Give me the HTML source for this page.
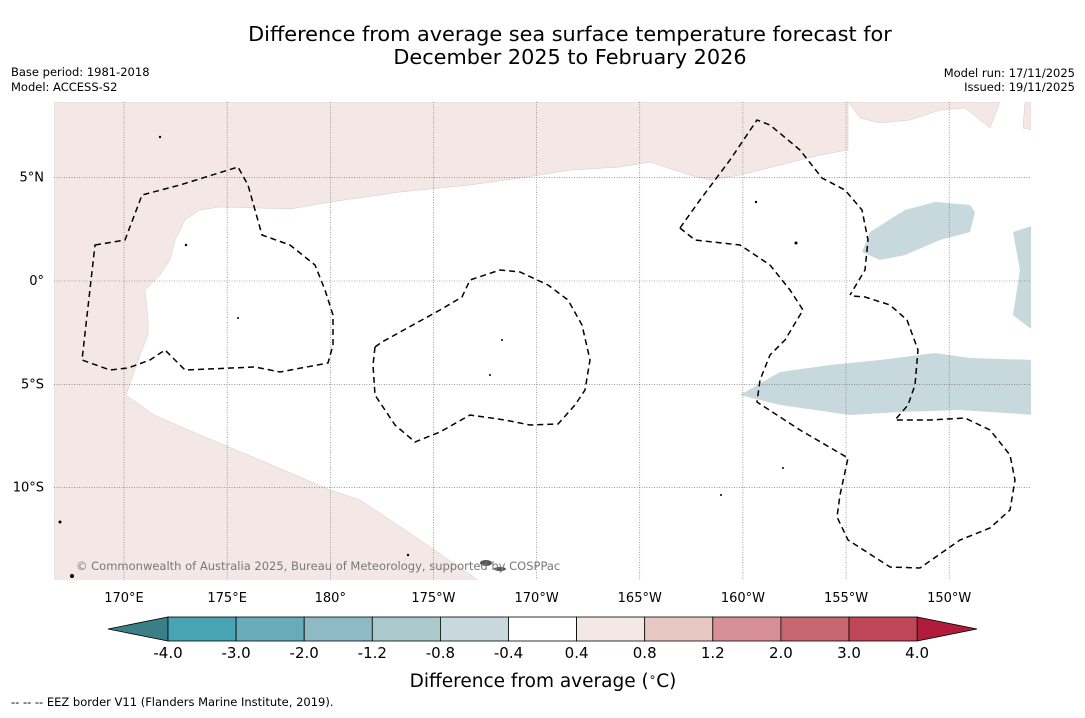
<!DOCTYPE html>
<html><head><meta charset="utf-8"><style>
body{margin:0;background:#fff;font-family:"Liberation Sans","DejaVu Sans",sans-serif}
svg text{font-family:"DejaVu Sans","Liberation Sans",sans-serif}
</style></head><body>
<svg width="1085" height="713" viewBox="0 0 1085 713" xmlns="http://www.w3.org/2000/svg">
<text x="570" y="41" font-size="20.8" text-anchor="middle">Difference from average sea surface temperature forecast for</text>
<text x="570" y="64" font-size="20.8" text-anchor="middle">December 2025 to February 2026</text>
<text x="11" y="76" font-size="11.5">Base period: 1981-2018</text>
<text x="11" y="91" font-size="11.5">Model: ACCESS-S2</text>
<text x="1075" y="77" font-size="11.5" text-anchor="end">Model run: 17/11/2025</text>
<text x="1075" y="91" font-size="11.5" text-anchor="end">Issued: 19/11/2025</text>
<g id="map">
<clipPath id="mc"><rect x="54" y="102" width="977" height="478"/></clipPath>
<g clip-path="url(#mc)">
<rect x="54" y="102" width="977" height="478" fill="#fff"/>
<path fill="#f4e8e7" stroke="#d8c8c8" stroke-width="0.5" d="M54,102 L848,102 L848,150 L820,155 L780,165 L740,175 L710,180 L690,175 L650,162 L620,167 L570,170 L520,178 L470,185 L400,192 L330,202 L290,209 L260,208 L220,207 L200,210 L185,220 L175,240 L170,260 L160,275 L145,290 L148,320 L148,335 L140,355 L126,395 L154,415 L200,435 L260,460 L330,490 L360,500 L420,540 L485,585 L54,585 Z"/>
<path fill="#f4e8e7" stroke="#d8c8c8" stroke-width="0.5" d="M848,102 L860,118 L880,123 L910,120 L940,110 L965,108 L990,128 L1000,102 Z M1025,102 L1031,102 L1031,130 L1023,128 Z"/>
<g fill="#c7d9dc">
<path d="M862,252 L870,232 L905,210 L935,202 L970,205 L975,212 L970,232 L940,240 L905,255 L880,260 Z"/>
<path d="M1013,232 L1035,225 L1035,332 L1013,315 L1020,270 Z"/>
<path d="M740,395 L780,372 L830,365 L880,360 L935,353 L970,358 L1035,360 L1035,415 L960,410 L900,412 L850,415 L780,405 Z"/>
</g>
<g id="grid" stroke="#666" stroke-width="0.6" stroke-dasharray="1,1.5"></g>
<g fill="none" stroke="#000" stroke-width="1.5" stroke-dasharray="6,4">
<path d="M95,245 L125,240 L142,195 L180,185 L238,167 L248,185 L262,235 L290,245 L315,265 L325,290 L333,315 L333,345 L328,363 L280,372 L255,367 L185,370 L165,350 L150,360 L128,368 L110,370 L82,360 Z"/>
<path d="M375,347 L382,342 L440,310 L462,297 L470,280 L500,270 L520,272 L548,285 L568,300 L582,325 L590,360 L585,390 L575,405 L558,424 L530,425 L505,420 L470,415 L440,432 L415,442 L395,425 L375,395 L373,365 Z"/>
<path d="M680,228 L700,200 L730,160 L757,120 L770,125 L800,150 L822,178 L845,190 L862,210 L868,240 L865,270 L850,295"/>
<path d="M680,228 L695,240 L740,245 L770,265 L790,290 L803,310 L797,320 L785,340 L770,355 L760,380 L757,402 L800,430 L848,458 L840,495 L837,517 L848,540 L890,567 L920,568 L960,540 L990,528 L1010,510 L1015,480 L1010,455 L990,430 L965,418 L930,420 L895,420 L908,405 L915,385 L918,350 L907,320 L890,305 L865,297 L852,296"/>
</g>
<g fill="#000">
<ellipse cx="486" cy="563" rx="6" ry="3" fill="#555"/><ellipse cx="500" cy="569" rx="6" ry="2" fill="#555"/>
<circle cx="60" cy="522" r="1.5"/><circle cx="72" cy="576" r="2"/><circle cx="796" cy="243" r="1.5"/><circle cx="756" cy="202" r="1.2"/><circle cx="160" cy="137" r="1.2"/><circle cx="186" cy="245" r="1.2"/><circle cx="238" cy="318" r="1"/><circle cx="502" cy="340" r="1"/><circle cx="490" cy="375" r="1"/><circle cx="783" cy="468" r="1"/><circle cx="721" cy="495" r="1"/><circle cx="408" cy="555" r="1.2"/>
</g>
<text x="76" y="570" font-size="11.5" fill="#777">© Commonwealth of Australia 2025, Bureau of Meteorology, supported by COSPPac</text>
</g>
<g id="ticks" font-size="13"></g>
</g>
<g id="cbar"></g>
<text x="543" y="687" font-size="18.5" text-anchor="middle">Difference from average (<tspan font-size="12" dy="-6">∘</tspan><tspan dy="6">C)</tspan></text>
<text x="11" y="706" font-size="11.5">--  --  -- EEZ border V11 (Flanders Marine Institute, 2019).</text>
</svg>
<script>
const lonTicks=[170,175,180,185,190,195,200,205,210];
const lonLabels=["170°E","175°E","180°","175°W","170°W","165°W","160°W","155°W","150°W"];
const latTicks=[5,0,-5,-10];
const latLabels=["5°N","0°","5°S","10°S"];
const cbLevels=["-4.0","-3.0","-2.0","-1.2","-0.8","-0.4","0.4","0.8","1.2","2.0","3.0","4.0"];
const cbColors=["#48a3b3","#68acba","#8dbac4","#abc8cd","#c7d9dc","#ffffff","#f4e8e7","#e9c8c4","#d68f96","#c8666f","#bf4656"];
const NS="http://www.w3.org/2000/svg";
const xOf=l=>124+(l-170)*20.63;
const yOf=l=>281-l*20.66;
const grid=document.getElementById('grid'),ticks=document.getElementById('ticks');
lonTicks.forEach((l,i)=>{
 const ln=document.createElementNS(NS,'line');
 
 
 ln.setAttribute('x1',xOf(l));ln.setAttribute('x2',xOf(l));ln.setAttribute('y1',102);ln.setAttribute('y2',580);grid.appendChild(ln);
 const t=document.createElementNS(NS,'text');
 
 
 t.setAttribute('x',xOf(l));t.setAttribute('y',602);t.setAttribute('text-anchor','middle');t.textContent=lonLabels[i];ticks.appendChild(t);
});
latTicks.forEach((l,i)=>{
 const ln=document.createElementNS(NS,'line');
 
 
 ln.setAttribute('x1',54);ln.setAttribute('x2',1031);ln.setAttribute('y1',yOf(l));ln.setAttribute('y2',yOf(l));grid.appendChild(ln);
 const t=document.createElementNS(NS,'text');
 
 
 t.setAttribute('x',44);t.setAttribute('y',yOf(l)+4);t.setAttribute('text-anchor','end');t.textContent=latLabels[i];ticks.appendChild(t);
});
const cb=document.getElementById('cbar');
const x0=168,w=68.1,y0=617,h=24;
const tl=document.createElementNS(NS,'polygon');


tl.setAttribute('points',`108,${y0+h/2} ${x0},${y0} ${x0},${y0+h}`);tl.setAttribute('fill','#3a7f88');tl.setAttribute('stroke','#000');tl.setAttribute('stroke-width','0.8');cb.appendChild(tl);
const xe=x0+w*cbColors.length;
const tr=document.createElementNS(NS,'polygon');


tr.setAttribute('points',`977,${y0+h/2} ${xe},${y0} ${xe},${y0+h}`);tr.setAttribute('fill','#b01c3a');tr.setAttribute('stroke','#000');tr.setAttribute('stroke-width','0.8');cb.appendChild(tr);
cbColors.forEach((c,i)=>{
 const r=document.createElementNS(NS,'rect');
 
 
 r.setAttribute('x',x0+i*w);r.setAttribute('y',y0);r.setAttribute('width',w);r.setAttribute('height',h);r.setAttribute('fill',c);r.setAttribute('stroke','#000');r.setAttribute('stroke-width','0.8');cb.appendChild(r);
});
cbLevels.forEach((v,i)=>{
 const t=document.createElementNS(NS,'text');
 
 
 t.setAttribute('x',x0+i*w);t.setAttribute('y',658);t.setAttribute('text-anchor','middle');t.setAttribute('font-size','15');t.textContent=v;cb.appendChild(t);
});
</script>
</body></html>
